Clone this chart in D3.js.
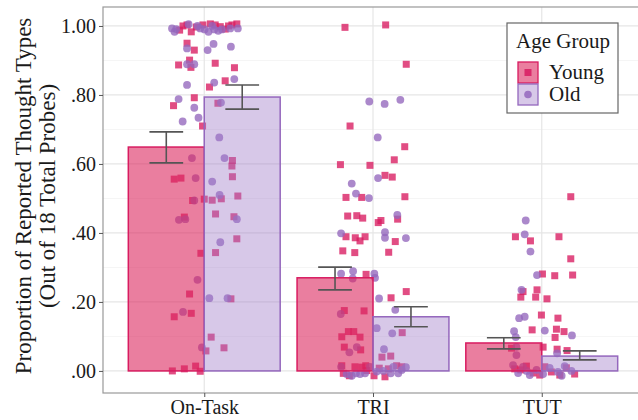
<!DOCTYPE html>
<html>
<head>
<meta charset="utf-8">
<script src="https://cdn.jsdelivr.net/npm/d3@7"></script>
<style>
  body { margin: 0; background: #fff; }
  svg { display: block; }
  svg text { font-family: "Liberation Serif", "Times New Roman", serif; }
</style>
</head>
<body>
<svg id="chart"></svg>
<script>
// categories and bar means
const categories = ["On-Task", "TRI", "TUT"];
const groups = ["Young", "Old"];
const youngMean = [0.649, 0.270, 0.081];
const oldMean = [0.794, 0.157, 0.043];
// standard-error bar ends [low, high]
const youngErr = [[0.603, 0.693], [0.235, 0.301], [0.064, 0.096]];
const oldErr = [[0.759, 0.829], [0.128, 0.186], [0.032, 0.058]];
const yTicks = [0, 0.2, 0.4, 0.6, 0.8, 1.0];

// participant points: [jitter offset (category units), proportion]
const youngOnTask = [
  [-0.126, 1.0], [-0.102, 1.003], [-0.077, 0.983], [-0.008, 1.003], [0.036, 1.006], [0.065, 1.003],
  [0.095, 0.998], [0.144, 1.0], [0.164, 1.003], [0.193, 1.006], [-0.146, 0.988], [-0.047, 0.997],
  [0.124, 0.991], [-0.102, 0.95], [-0.059, 0.930], [-0.087, 0.901], [-0.152, 0.887], [-0.079, 0.880],
  [0.065, 0.892], [0.179, 0.879], [0.124, 0.841], [0.031, 0.823], [-0.059, 0.792], [-0.182, 0.769],
  [0.081, 0.776], [-0.01, 0.710], [0.167, 0.610], [0.164, 0.594], [-0.178, 0.556], [-0.138, 0.559],
  [0.167, 0.563], [0.199, 0.507], [-0.069, 0.494], [0.0, 0.498], [0.047, 0.495], [0.101, 0.499],
  [-0.118, 0.446], [0.067, 0.455], [0.176, 0.447], [0.193, 0.383], [-0.02, 0.341], [0.067, 0.343],
  [-0.087, 0.223], [0.158, 0.209], [-0.178, 0.157], [-0.077, 0.167], [0.041, 0.098], [0.117, 0.067],
  [0.01, 0.058], [-0.189, 0.0], [-0.118, 0.006], [-0.051, 0.014], [-0.024, -0.001]
];
const oldOnTask = [
  [-0.191, 0.993], [-0.176, 0.983], [-0.093, 1.005], [-0.024, 0.993], [0.002, 0.990], [0.025, 0.983],
  [0.059, 0.990], [0.105, 0.990], [0.154, 0.993], [0.199, 0.993], [-0.04, 1.0], [-0.166, 0.991],
  [0.047, 1.0], [0.083, 0.986], [-0.102, 0.935], [0.02, 0.930], [0.055, 0.948], [0.158, 0.940],
  [-0.102, 0.889], [-0.059, 0.889], [0.178, 0.846], [0.059, 0.836], [-0.102, 0.829], [-0.152, 0.788],
  [-0.059, 0.763], [0.099, 0.778], [-0.034, 0.734], [-0.128, 0.723], [0.089, 0.677], [-0.073, 0.617],
  [0.12, 0.617], [-0.051, 0.559], [0.047, 0.549], [0.091, 0.510], [-0.059, 0.494], [-0.15, 0.438],
  [-0.112, 0.440], [0.193, 0.440], [0.095, 0.373], [-0.04, 0.264], [0.03, 0.211], [0.138, 0.211],
  [-0.126, 0.171], [-0.014, 0.068]
];
const youngTRI = [
  [-0.166, 0.996], [0.075, 1.003], [0.197, 0.889], [-0.136, 0.710], [0.188, 0.650], [0.126, 0.612],
  [-0.193, 0.598], [-0.018, 0.596], [0.071, 0.567], [0.114, 0.562], [-0.16, 0.503], [-0.067, 0.503],
  [0.189, 0.505], [-0.15, 0.449], [-0.096, 0.450], [-0.061, 0.443], [0.146, 0.440], [0.047, 0.436],
  [0.031, 0.430], [-0.16, 0.389], [-0.105, 0.386], [-0.077, 0.377], [-0.047, 0.389], [0.132, 0.375],
  [-0.179, 0.348], [-0.108, 0.343], [0.093, 0.344], [-0.041, 0.280], [0.107, 0.212], [0.197, 0.230],
  [-0.17, 0.175], [-0.053, 0.174], [0.173, 0.111], [-0.146, 0.114], [-0.114, 0.114], [-0.185, 0.099],
  [-0.077, 0.098], [-0.17, 0.069], [-0.073, 0.061], [0.053, 0.040], [0.105, 0.043],
  [-0.185, 0.015], [-0.176, -0.007], [-0.14, -0.014], [-0.107, 0.012], [-0.067, 0.011], [-0.043, 0.015],
  [-0.037, 0.001], [0.006, -0.014], [0.071, -0.017], [0.037, 0.008], [0.091, 0.006], [0.14, 0.015],
  [0.17, 0.012]
];
const oldTRI = [
  [-0.022, 0.781], [0.069, 0.774], [0.162, 0.786], [0.028, 0.677], [0.03, 0.559], [-0.126, 0.543],
  [-0.101, 0.514], [-0.024, 0.501], [0.144, 0.452], [-0.189, 0.399], [0.071, 0.402], [0.071, 0.386],
  [0.195, 0.385], [-0.189, 0.282], [-0.118, 0.289], [-0.12, 0.268], [0.008, 0.282], [0.012, 0.270],
  [0.036, 0.210], [0.132, 0.177], [-0.191, 0.165], [0.022, 0.124], [0.114, 0.109], [-0.096, 0.069],
  [-0.14, 0.054], [0.065, 0.063],
  [-0.189, 0.012], [-0.156, -0.009], [-0.126, -0.014], [-0.101, -0.007], [-0.077, -0.009], [-0.047, -0.007],
  [-0.018, 0.012], [0.022, -0.002], [0.061, 0.0], [0.105, -0.007], [0.12, 0.012], [0.15, -0.007],
  [0.17, 0.003], [0.195, 0.011]
];
const youngTUT = [
  [0.172, 0.505], [-0.156, 0.389], [-0.067, 0.377], [0.102, 0.389], [0.172, 0.325], [0.004, 0.281],
  [0.077, 0.276], [0.183, 0.278], [-0.111, 0.230], [-0.028, 0.235], [-0.124, 0.214], [-0.036, 0.214],
  [0.031, 0.209], [-0.002, 0.162], [0.096, 0.153], [-0.057, 0.119], [0.087, 0.121], [0.132, 0.114],
  [0.079, 0.097], [-0.179, 0.066], [0.008, 0.069], [0.091, 0.063], [0.15, 0.059],
  [-0.16, 0.006], [-0.091, 0.014], [-0.051, -0.006], [0.018, 0.012], [0.057, -0.003], [0.107, -0.012],
  [0.146, 0.009], [0.195, -0.009], [-0.124, 0.003], [-0.012, -0.012]
];
const oldTUT = [
  [-0.095, 0.436], [-0.101, 0.396], [-0.067, 0.346], [-0.028, 0.278], [-0.12, 0.235], [-0.134, 0.153],
  [-0.101, 0.157], [-0.164, 0.115], [0.018, 0.117], [0.179, 0.103], [-0.154, 0.098], [-0.15, 0.070],
  [0.091, 0.051], [-0.15, 0.046],
  [-0.17, 0.017], [-0.14, -0.006], [-0.111, 0.012], [-0.071, -0.012], [-0.031, 0.003], [0.008, -0.009],
  [0.047, 0.009], [0.096, -0.003], [0.136, 0.014], [0.176, 0.0], [-0.089, 0.0], [0.118, -0.014]
];

const youngPoints = [youngOnTask, youngTRI, youngTUT];
const oldPoints = [oldOnTask, oldTRI, oldTUT];

const width = 638, height = 420;
const panel = { left: 103, right: 643, top: 7, bottom: 393 };
const youngColor = "#d81b60", oldColor = "#9467bd";
const youngFill = "rgba(220,40,95,0.6)", oldFill = "rgba(160,124,200,0.42)";
const serif = "'Liberation Serif', 'Times New Roman', serif";

const svg = d3.select("#chart").attr("width", width).attr("height", height);

const x = d3.scaleLinear().domain([0.4, 3.6]).range([panel.left, panel.right]);
const y = d3.scaleLinear().domain([-0.064, 1.055]).range([panel.bottom, panel.top]);
const barW = 0.45;

// grid
const grid = svg.append("g");
d3.range(0.1, 1.0, 0.2).forEach(v => {
  grid.append("line").attr("x1", panel.left).attr("x2", panel.right)
    .attr("y1", y(v)).attr("y2", y(v)).attr("stroke", "#f2f2f2").attr("stroke-width", 0.8);
});
yTicks.forEach(v => {
  grid.append("line").attr("x1", panel.left).attr("x2", panel.right)
    .attr("y1", y(v)).attr("y2", y(v)).attr("stroke", "#e6e6e6").attr("stroke-width", 1.2);
});
categories.forEach((c, i) => {
  grid.append("line").attr("x1", x(i + 1)).attr("x2", x(i + 1))
    .attr("y1", panel.top).attr("y2", panel.bottom).attr("stroke", "#e6e6e6").attr("stroke-width", 1.2);
});

// points (drawn under the translucent bars)
const pts = svg.append("g");
const sq = 7;
youngPoints.forEach((arr, i) => {
  pts.selectAll(null).data(arr).join("rect")
    .attr("x", d => x(i + 1 + d[0]) - sq / 2)
    .attr("y", d => y(d[1]) - sq / 2)
    .attr("width", sq).attr("height", sq)
    .attr("fill", youngColor).attr("fill-opacity", 0.78);
});
oldPoints.forEach((arr, i) => {
  pts.selectAll(null).data(arr).join("circle")
    .attr("cx", d => x(i + 1 + d[0]))
    .attr("cy", d => y(d[1]))
    .attr("r", 3.9)
    .attr("fill", oldColor).attr("fill-opacity", 0.78);
});

// bars
const bars = svg.append("g");
categories.forEach((c, i) => {
  bars.append("rect")
    .attr("x", x(i + 1 - barW)).attr("width", x(i + 1) - x(i + 1 - barW))
    .attr("y", y(youngMean[i])).attr("height", y(0) - y(youngMean[i]))
    .attr("fill", youngFill).attr("stroke", youngColor).attr("stroke-width", 1.5);
  bars.append("rect")
    .attr("x", x(i + 1)).attr("width", x(i + 1 + barW) - x(i + 1))
    .attr("y", y(oldMean[i])).attr("height", y(0) - y(oldMean[i]))
    .attr("fill", oldFill).attr("stroke", oldColor).attr("stroke-width", 1.5);
});

// error bars
const eb = svg.append("g").attr("stroke", "#555").attr("stroke-width", 1.6).attr("fill", "none");
const errW = 0.1;
function errorBar(cx, lo, hi) {
  eb.append("line").attr("x1", x(cx)).attr("x2", x(cx)).attr("y1", y(lo)).attr("y2", y(hi));
  eb.append("line").attr("x1", x(cx - errW)).attr("x2", x(cx + errW)).attr("y1", y(lo)).attr("y2", y(lo));
  eb.append("line").attr("x1", x(cx - errW)).attr("x2", x(cx + errW)).attr("y1", y(hi)).attr("y2", y(hi));
}
categories.forEach((c, i) => {
  errorBar(i + 1 - barW / 2, youngErr[i][0], youngErr[i][1]);
  errorBar(i + 1 + barW / 2, oldErr[i][0], oldErr[i][1]);
});

// panel border
svg.append("rect").attr("x", panel.left).attr("y", panel.top)
  .attr("width", panel.right - panel.left).attr("height", panel.bottom - panel.top)
  .attr("fill", "none").attr("stroke", "#999").attr("stroke-width", 1.2);

// axes
const fmt = v => d3.format(".2f")(v).replace(/^0/, "");
const yAxis = svg.append("g").attr("transform", `translate(${panel.left},0)`)
  .call(d3.axisLeft(y).tickValues(yTicks).tickFormat(fmt).tickSize(4).tickPadding(3));
yAxis.attr("font-family", null).attr("font-size", null);
yAxis.select(".domain").remove();
yAxis.selectAll("line").attr("stroke", "#555");
yAxis.selectAll("text").style("font-family", serif).style("font-size", "20px").attr("fill", "#1a1a1a");

const xAxis = svg.append("g").attr("transform", `translate(0,${panel.bottom})`)
  .call(d3.axisBottom(x).tickValues([1, 2, 3]).tickFormat(d => categories[d - 1]).tickSize(4).tickPadding(3));
xAxis.attr("font-family", null).attr("font-size", null);
xAxis.select(".domain").remove();
xAxis.selectAll("line").attr("stroke", "#555");
xAxis.selectAll("text").style("font-family", serif).style("font-size", "20px").attr("fill", "#1a1a1a");

// y title
const yt = svg.append("text")
  .attr("transform", `translate(31,${(panel.top + panel.bottom) / 2 - 4}) rotate(-90)`)
  .attr("text-anchor", "middle").style("font-family", serif).style("font-size", "23px").attr("fill", "#1a1a1a");
yt.append("tspan").attr("x", 0).attr("y", 0).text("Proportion of Reported Thought Types");
yt.append("tspan").attr("x", 0).attr("y", 24).text("(Out of 18 Total Probes)");

// legend
const lg = svg.append("g").attr("transform", "translate(507,23)");
lg.append("rect").attr("width", 111).attr("height", 90).attr("fill", "#fff")
  .attr("stroke", "#666").attr("stroke-width", 1.2);
lg.append("text").attr("x", 9).attr("y", 25).style("font-family", serif).style("font-size", "21px")
  .attr("fill", "#1a1a1a").text("Age Group");
const keys = [
  { label: groups[0], fill: youngFill, stroke: youngColor, shape: "square" },
  { label: groups[1], fill: oldFill, stroke: oldColor, shape: "circle" }
];
keys.forEach((k, i) => {
  const g = lg.append("g").attr("transform", `translate(11,${39 + i * 22})`);
  g.append("rect").attr("x", 0).attr("y", 0).attr("width", 20).attr("height", 21)
    .attr("fill", k.fill).attr("stroke", k.stroke).attr("stroke-width", 1.3);
  if (k.shape === "square") {
    g.append("rect").attr("x", 6.5).attr("y", 7).attr("width", 7).attr("height", 7)
      .attr("fill", k.stroke).attr("fill-opacity", 0.85);
  } else {
    g.append("circle").attr("cx", 10).attr("cy", 10.5).attr("r", 3.8)
      .attr("fill", k.stroke).attr("fill-opacity", 0.85);
  }
  g.append("text").attr("x", 31).attr("y", 17).style("font-family", serif).style("font-size", "21px")
    .attr("fill", "#1a1a1a").text(k.label);
});
</script>
</body>
</html>
